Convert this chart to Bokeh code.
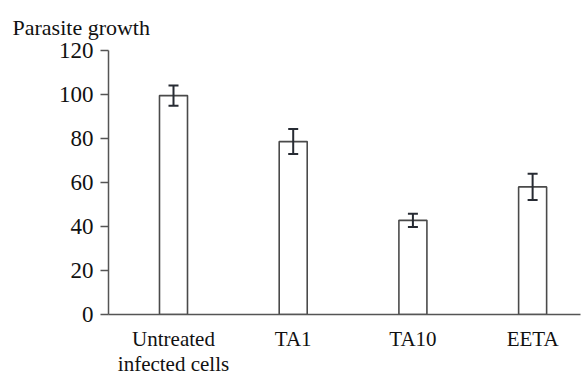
from bokeh.plotting import figure
from bokeh.models import ColumnDataSource, Range1d, FixedTicker, Whisker, TeeHead
from bokeh.embed import file_html
from bokeh.resources import INLINE

categories = ["Untreated\ninfected cells", "TA1", "TA10", "EETA"]
growth = [99.5, 78.6, 42.8, 58.0]
error = [4.6, 5.7, 3.0, 6.0]
y_ticks = [0, 20, 40, 60, 80, 100, 120]

xpos = list(range(len(categories)))
src = ColumnDataSource(dict(
    x=xpos, top=growth,
    upper=[g + e for g, e in zip(growth, error)],
    lower=[g - e for g, e in zip(growth, error)],
))

FONT = "Liberation Serif"
AX = "#555555"

p = figure(frame_width=472, frame_height=264, output_backend="svg", toolbar_location=None,
           x_range=Range1d(-0.543, 3.40), y_range=Range1d(0, 120),
           min_border_left=108, min_border_right=2, min_border_top=50, min_border_bottom=50,
           title="Parasite growth")
p.title.text_font = FONT
p.title.text_font_size = "22px"
p.title.text_font_style = "normal"
p.title.align = "left"
p.title.offset = -96
p.title.standoff = 22
p.title.text_color = "#111111"

p.outline_line_color = None
p.grid.grid_line_color = None
p.background_fill_color = "white"

p.vbar(x="x", top="top", bottom=0, width=0.234, source=src,
       fill_color="white", line_color="#4a4a4a", line_width=1.6)

w = Whisker(base="x", upper="upper", lower="lower", source=src, level="overlay",
            line_color="#272b33", line_width=2,
            upper_head=TeeHead(size=10, line_color="#272b33", line_width=2),
            lower_head=TeeHead(size=10, line_color="#272b33", line_width=2))
p.add_layout(w)

p.yaxis.ticker = FixedTicker(ticks=y_ticks)
p.yaxis.axis_line_color = AX
p.yaxis.axis_line_width = 1.5
p.yaxis.major_tick_line_color = AX
p.yaxis.major_tick_line_width = 1.5
p.yaxis.major_tick_out = 8
p.yaxis.major_tick_in = 0
p.yaxis.minor_tick_line_color = None
p.yaxis.major_label_text_font = FONT
p.yaxis.major_label_text_font_size = "23px"
p.yaxis.major_label_text_color = "#111111"
p.yaxis.major_label_standoff = 7

p.xaxis.ticker = FixedTicker(ticks=xpos)
p.xaxis.major_label_overrides = {i: c for i, c in zip(xpos, categories)}
p.xaxis.axis_line_color = AX
p.xaxis.axis_line_width = 1.5
p.xaxis.major_tick_line_color = None
p.xaxis.major_tick_out = 0
p.xaxis.major_tick_in = 0
p.xaxis.minor_tick_line_color = None
p.xaxis.major_label_text_font = FONT
p.xaxis.major_label_text_font_size = "21px"
p.xaxis.major_label_text_line_height = 1.05
p.xaxis.major_label_text_color = "#111111"
p.xaxis.major_label_standoff = 12

open("out.html", "w").write(file_html(p, INLINE))
